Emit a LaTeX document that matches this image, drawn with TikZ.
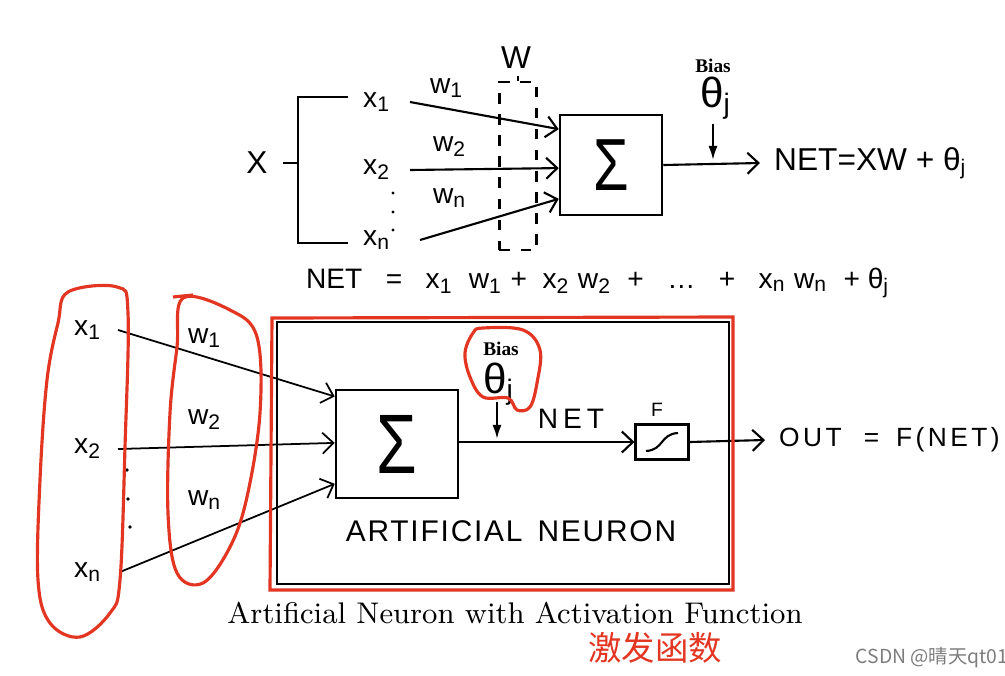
\documentclass[tikz,border=0pt]{standalone}
\usepackage{fontspec}
\usepackage{graphicx}
\setsansfont{Liberation Sans}
\newfontfamily\cjk{Noto Sans CJK SC}
\newfontfamily\biasfont{Liberation Serif}
\usetikzlibrary{positioning,calc,arrows.meta}
\definecolor{penred}{RGB}{226,54,34}
\definecolor{markgray}{RGB}{125,125,125}
\tikzset{
  lbl/.style={font=\sffamily\fontsize{8}{9}\selectfont, inner sep=1pt},
  wide lbl/.style={font=\sffamily\fontsize{7.5}{9}\selectfont\addfontfeature{LetterSpace=13}, inner sep=1pt},
  small lbl/.style={font=\sffamily\fontsize{5.5}{6}\selectfont, inner sep=1pt},
  bias lbl/.style={font=\biasfont\bfseries\fontsize{5.5}{6}\selectfont, inner sep=1pt},
  theta lbl/.style={font=\sffamily\fontsize{12}{13}\selectfont, inner sep=1pt},
  sumbox/.style={draw, line width=0.7pt, inner sep=0pt, font=\sffamily},
  inarrow/.style={-{Straight Barb[length=1.1mm,width=2.1mm]}, line width=0.6pt},
  biasarrow/.style={-{Latex[length=1.4mm,width=0.9mm]}, line width=0.6pt},
  redpen/.style={penred, line width=0.9pt},
}
\newcommand{\sumsign}[1]{\scalebox{0.78}[1]{\fontsize{#1}{#1}\selectfont Σ}}
\begin{document}
\begin{tikzpicture}[x=0.01cm, y={(0,-0.01cm)}]
        \useasboundingbox (0,0) rectangle (1005,675);
        % upper picture
        \node[lbl, font=\sffamily\fontsize{9}{10}\selectfont] (xT) at (257,163) {X};
        \draw[line width=0.6pt] (283,163) -- (298,163);
        \draw[line width=0.6pt] (348,97) -- (298,97) -- (298,243) -- (348,243);
        \node[lbl] (xone) at (377,102) {x\textsubscript{1}};
        \node[lbl] (xtwo) at (377,170) {x\textsubscript{2}};
        \node[lbl] (xn) at (377,240) {x\textsubscript{n}};
        \foreach \yy in {193,212,230} \fill (393,\yy) circle (1.7);
        \node[lbl] (wone) at (447,88) {w\textsubscript{1}};
        \node[lbl] (wtwo) at (450,147) {w\textsubscript{2}};
        \node[lbl] (wn) at (450,198) {w\textsubscript{n}};
        \node[sumbox, minimum width=1.02cm, minimum height=1cm] (sumT) at (611,165) {\sumsign{21}};
        \node[draw, dashed, line width=0.6pt, minimum width=0.37cm, minimum height=1.68cm] (wbox) at (518,166) {};
        \node[lbl, font=\sffamily\fontsize{9}{10}\selectfont] (wlbl) at (516,58) {W};
        \draw[line width=0.6pt] (wbox.north) -- ++(0,-5);
        \draw[inarrow] ([xshift=0.15cm]xone.east) -- ($(sumT.north west)!0.15!(sumT.south west)$);
        \draw[inarrow] ([xshift=0.15cm]xtwo.east) -- ($(sumT.north west)!0.53!(sumT.south west)$);
        \draw[inarrow] ([xshift=0.25cm]xn.east) -- ($(sumT.north west)!0.83!(sumT.south west)$);
        \node[bias lbl] (biasT) at (713,66) {Bias};
        \node[theta lbl] (thetaT) at (716,98) {θ\textsubscript{j}};
        \node[lbl, anchor=west, font=\sffamily\fontsize{9}{10}\selectfont] (netT) at (770,163) {NET=XW + θ\textsubscript{j}};
        \draw[inarrow] (sumT.east) -- ([xshift=-0.1cm]netT.west);
        \draw[biasarrow] ([xshift=-0.03cm]thetaT.south) -- ([xshift=-0.03cm,yshift=0.03cm]thetaT.south |- netT.west);
        \node[lbl] (netEq) at (598,283) {NET\ \ \ =\ \ \ x\textsubscript{1}\ \ w\textsubscript{1}\ +\ \ x\textsubscript{2}\ w\textsubscript{2}\ \ +\ \ \ \dots\ \ \ +\ \ \ x\textsubscript{n}\ w\textsubscript{n}\ \ + θ\textsubscript{j}};
        % lower picture
        \node[lbl] (xbone) at (88,330) {x\textsubscript{1}};
        \node[lbl] (xbtwo) at (88,449) {x\textsubscript{2}};
        \node[lbl] (xbn) at (88,572) {x\textsubscript{n}};
        \foreach \xx/\yy in {127/470,128/499,130/527} \fill (\xx,\yy) circle (1.8);
        \node[lbl] (wbone) at (205,338) {w\textsubscript{1}};
        \node[lbl] (wbtwo) at (205,420) {w\textsubscript{2}};
        \node[lbl] (wbn) at (205,500) {w\textsubscript{n}};
        \node[sumbox, minimum width=1.22cm, minimum height=1.08cm] (sumB) at (397,444) {\sumsign{24}};
        \draw[inarrow, line width=0.5pt] ([xshift=0.12cm]xbone.east) -- ($(sumB.north west)!0.07!(sumB.south west)$);
        \draw[inarrow, line width=0.5pt] ([xshift=0.12cm]xbtwo.east) -- ($(sumB.north west)!0.49!(sumB.south west)$);
        \draw[inarrow, line width=0.5pt] ([xshift=0.14cm]xbn.east) -- ($(sumB.north west)!0.86!(sumB.south west)$);
        \node[bias lbl] (biasB) at (501,349) {Bias};
        \node[theta lbl] (thetaB) at (499,384) {θ\textsubscript{j}};
        \node[wide lbl, font=\sffamily\fontsize{8}{9}\selectfont\addfontfeature{LetterSpace=18}] (netB) at (571,419) {NET};
        \node[draw, line width=0.6pt, minimum width=0.53cm, minimum height=0.35cm] (fbox) at (662,442) {};
        \draw[line width=0.6pt] ($(fbox.center)+(-16,9)$) .. controls ($(fbox.center)+(2,8)$) and ($(fbox.center)+(-2,-8)$) .. ($(fbox.center)+(16,-9)$);
        \node[small lbl] (flbl) at (657,410) {F};
        \node[wide lbl, anchor=west] (outB) at (775,440) {OUT\hspace{0.22cm}=\hspace{0.17cm}F(NET)};
        \draw[inarrow] (sumB.east |- fbox.west) -- (fbox.west);
        \draw[inarrow] (fbox.east) -- ([xshift=-0.1cm]outB.west);
        \draw[biasarrow] (497,402) -- (497,439);
        \draw[line width=0.6pt] (277,322) rectangle (729,584);
        \node[wide lbl, font=\sffamily\fontsize{8.5}{10}\selectfont\addfontfeature{LetterSpace=6}] (neuron) at (511,531) {ARTIFICIAL\hspace{0.15cm}NEURON};
        % red pen marks
        \draw[redpen] (272,318) -- (733,317) -- (733,590) -- (270,590) -- cycle;
        \draw[redpen] plot[smooth cycle, tension=0.6] coordinates {(68,292) (117,287) (128,313) (125,447) (120,580) (110,613) (80,637) (50,623) (38,580) (40,480) (47,380) (58,323)};
        \draw[redpen] (173,297) -- (193,295);
        \draw[redpen] plot[smooth cycle, tension=0.6] coordinates {(183,298) (230,310) (257,337) (260,413) (247,497) (230,547) (203,583) (177,573) (168,513) (170,413) (177,347)};
        \draw[redpen] plot[smooth cycle, tension=0.6] coordinates {(483,328) (523,330) (540,350) (537,383) (530,407) (517,410) (508,398) (483,397) (470,377) (465,353) (473,333)};
        % captions
        \node[font=\rmfamily\fontsize{8.5}{10}\selectfont] (caption) at (515,613) {Artificial Neuron with Activation Function};
        \node[font=\cjk\fontsize{9.5}{11}\selectfont, text=penred] (cnlbl) at (655,648) {激发函数};
        \node[font=\cjk\fontsize{5.5}{6}\selectfont, text=markgray] (mark) at (932,658) {CSDN @晴天qt01};
\end{tikzpicture}
\end{document}
